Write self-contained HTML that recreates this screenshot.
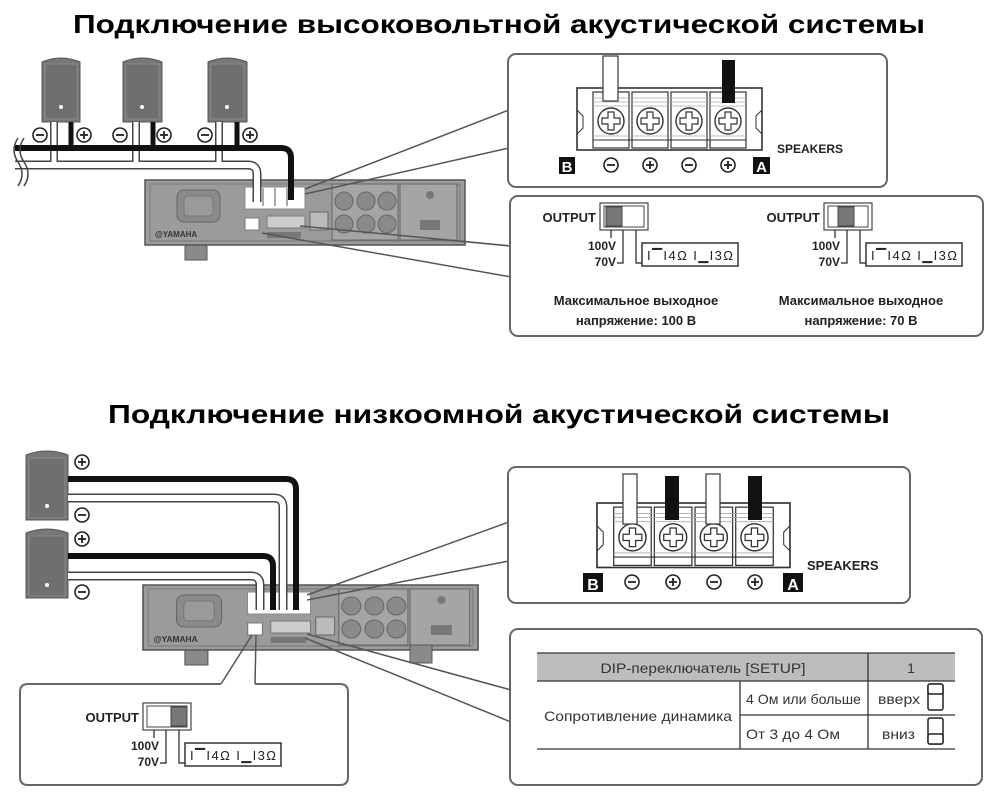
<!DOCTYPE html>
<html><head><meta charset="utf-8"><style>html,body{margin:0;padding:0;background:#fff}svg{display:block}</style></head>
<body>
<svg width="1000" height="800" viewBox="0 0 1000 800" xmlns="http://www.w3.org/2000/svg" font-family="Liberation Sans, DejaVu Sans, sans-serif">
<defs>
  <g id="minus"><circle r="7" fill="#fff" stroke="#222" stroke-width="1.6"/><line x1="-4" y1="0" x2="4" y2="0" stroke="#222" stroke-width="1.8"/></g>
  <g id="plus"><circle r="7" fill="#fff" stroke="#222" stroke-width="1.6"/><line x1="-4" y1="0" x2="4" y2="0" stroke="#222" stroke-width="1.8"/><line x1="0" y1="-4" x2="0" y2="4" stroke="#222" stroke-width="1.8"/></g>
  <g id="amp">
    <rect x="40" y="60" width="22" height="20" fill="#8a8a8a" stroke="#555"/>
    <rect x="0" y="0" width="320" height="65" fill="#9b9b9b" stroke="#555" stroke-width="1.5"/>
    <rect x="5" y="4" width="310" height="57" fill="none" stroke="#7a7a7a"/>
    <rect x="32" y="10" width="43" height="32" rx="7" fill="#8a8a8a" stroke="#666"/>
    <rect x="39" y="16" width="29" height="20" rx="4" fill="#9a9a9a" stroke="#777"/>
    <text x="10" y="57" font-size="8" font-weight="bold" fill="#333">@YAMAHA</text>
    <rect x="100" y="7" width="60" height="22" fill="#fff" stroke="#888"/>
    <rect x="100" y="38" width="14" height="12" fill="#fff" stroke="#777"/>
    <rect x="122" y="36" width="38" height="12" fill="#ccc" stroke="#777"/>
    <rect x="122" y="52" width="34" height="6" fill="#777"/>
    <rect x="165" y="32" width="18" height="18" fill="#bbb" stroke="#666"/>
    <rect x="187" y="4" width="66" height="56" fill="#a5a5a5" stroke="#666"/>
    <circle cx="199" cy="21" r="9" fill="#8a8a8a" stroke="#666"/><circle cx="221" cy="21" r="9" fill="#8a8a8a" stroke="#666"/><circle cx="242" cy="21" r="9" fill="#8a8a8a" stroke="#666"/>
    <circle cx="199" cy="44" r="9" fill="#8a8a8a" stroke="#666"/><circle cx="221" cy="44" r="9" fill="#8a8a8a" stroke="#666"/><circle cx="242" cy="44" r="9" fill="#8a8a8a" stroke="#666"/>
    <rect x="255" y="4" width="57" height="56" fill="#a5a5a5" stroke="#666"/>
    <circle cx="285" cy="15" r="4" fill="#777"/>
    <rect x="275" y="40" width="20" height="10" fill="#777"/>
  </g>
  <g id="tb">
    <rect x="0" y="0" width="185" height="62" fill="#fff" stroke="#333" stroke-width="1.6"/>
    <path d="M0 22 L6 28 L6 40 L0 46 M185 22 L179 28 L179 40 L185 46" fill="none" stroke="#333"/>
    <g fill="none" stroke="#333" stroke-width="1.2">
      <rect x="16" y="4" width="36" height="56"/><rect x="55" y="4" width="36" height="56"/><rect x="94" y="4" width="36" height="56"/><rect x="133" y="4" width="36" height="56"/>
    </g>
    <g stroke="#aaa" stroke-width="0.8">
      <line x1="16" y1="10" x2="169" y2="10"/><line x1="16" y1="14" x2="169" y2="14"/><line x1="16" y1="18" x2="169" y2="18"/><line x1="16" y1="48" x2="169" y2="48"/>
    </g>
    <line x1="16" y1="52" x2="169" y2="52" stroke="#333"/>
    <g fill="#fff" stroke="#333" stroke-width="1.4">
      <circle cx="34" cy="33" r="13"/><circle cx="73" cy="33" r="13"/><circle cx="112" cy="33" r="13"/><circle cx="151" cy="33" r="13"/>
    </g>
    <g fill="none" stroke="#333" stroke-width="1.2">
      <path d="M31 24h6v6h6v6h-6v6h-6v-6h-6v-6h6z"/>
      <path d="M70 24h6v6h6v6h-6v6h-6v-6h-6v-6h6z"/>
      <path d="M109 24h6v6h6v6h-6v6h-6v-6h-6v-6h6z"/>
      <path d="M148 24h6v6h6v6h-6v6h-6v-6h-6v-6h6z"/>
    </g>
  </g>
  <g id="outcommon">
    <text x="-4" y="19" font-size="13" font-weight="bold" text-anchor="end" fill="#222">OUTPUT</text>
    <rect x="0" y="0" width="48" height="27" fill="#fff" stroke="#444" stroke-width="1.2"/>
    <rect x="4" y="3" width="40" height="21" fill="#fff" stroke="#444"/>
    <g fill="none" stroke="#222" stroke-width="1.2">
      <path d="M11 27v8"/><path d="M23 27v33h-6"/><path d="M36 27v33h6"/>
    </g>
    <text x="16" y="47" font-size="12" font-weight="bold" text-anchor="end" fill="#222">100V</text>
    <text x="16" y="63" font-size="12" font-weight="bold" text-anchor="end" fill="#222">70V</text>
    <rect x="42" y="40" width="96" height="23" fill="#fff" stroke="#333" stroke-width="1.5"/>
    <text x="47" y="57" font-size="13" fill="#222" textLength="86">I&#9620;I4Ω  I&#9601;I3Ω</text>
  </g>
</defs>

<!-- Titles -->
<text x="499" y="33" font-size="26" font-weight="bold" text-anchor="middle" textLength="852" lengthAdjust="spacingAndGlyphs" fill="#000">Подключение высоковольтной акустической системы</text>
<text x="499" y="423" font-size="26" font-weight="bold" text-anchor="middle" textLength="782" lengthAdjust="spacingAndGlyphs" fill="#000">Подключение низкоомной акустической системы</text>

<!-- ===== TOP SECTION ===== -->
<use href="#amp" x="145" y="180"/>
<rect x="252" y="188" width="50" height="18" fill="#fff"/>
<g stroke="#555" fill="none"><line x1="263" y1="188" x2="263" y2="206"/><line x1="275" y1="188" x2="275" y2="206"/><line x1="287" y1="188" x2="287" y2="206"/></g>
<g stroke="#555" stroke-width="1.5" fill="none">
  <line x1="305" y1="189" x2="509" y2="110"/>
  <line x1="305" y1="194" x2="509" y2="148"/>
  <line x1="300" y1="226" x2="511" y2="246"/>
  <line x1="262" y1="233" x2="511" y2="277"/>
</g>

<!-- speakers top -->
<g>
  <path d="M42 62 q19 -8 38 0 v60 h-38z" fill="#777" stroke="#555"/>
  <rect x="45" y="64" width="32" height="55" fill="#6f6f6f" stroke="#888"/>
  <circle cx="61" cy="107" r="2" fill="#fff"/>
  <path d="M123 62 q19 -8 39 0 v60 h-39z" fill="#777" stroke="#555"/>
  <rect x="126" y="64" width="33" height="55" fill="#6f6f6f" stroke="#888"/>
  <circle cx="142" cy="107" r="2" fill="#fff"/>
  <path d="M208 62 q19 -8 39 0 v60 h-39z" fill="#777" stroke="#555"/>
  <rect x="211" y="64" width="33" height="55" fill="#6f6f6f" stroke="#888"/>
  <circle cx="227" cy="107" r="2" fill="#fff"/>
</g>
<g fill="none" stroke-linejoin="round">
  <path d="M15 165 H248 q9 0 9 9 V202" stroke="#444" stroke-width="9"/>
  <path d="M54 122 V165 M136 122 V165 M219 122 V165" stroke="#444" stroke-width="8"/>
  <path d="M15 165 H248 q9 0 9 9 V202" stroke="#fff" stroke-width="6"/>
  <path d="M54 122 V163 M136 122 V163 M219 122 V163" stroke="#fff" stroke-width="5"/>
  <path d="M15 148 H281 q10 0 10 10 V200" stroke="#111" stroke-width="6"/>
  <path d="M71 122 V148 M153 122 V148 M237 122 V148" stroke="#111" stroke-width="5"/>
</g>
<path d="M18 138 q-8 12 0 24 q8 12 0 24" fill="none" stroke="#444" stroke-width="1.5"/>
<path d="M24 138 q-8 12 0 24 q8 12 0 24" fill="none" stroke="#444" stroke-width="1.5"/>
<use href="#minus" x="40" y="135"/><use href="#plus" x="84" y="135"/>
<use href="#minus" x="120" y="135"/><use href="#plus" x="164" y="135"/>
<use href="#minus" x="205" y="135"/><use href="#plus" x="250" y="135"/>

<!-- top callout box 1 -->
<rect x="508" y="54" width="379" height="133" rx="8" fill="#fff" stroke="#666" stroke-width="2"/>
<use href="#tb" x="577" y="88"/>
<rect x="603" y="56" width="15" height="45" fill="#fff" stroke="#444" stroke-width="1.3"/>
<rect x="722" y="60" width="13" height="43" fill="#111"/>
<rect x="559" y="157" width="16" height="17" fill="#111"/><text x="567" y="172" font-size="15" font-weight="bold" fill="#fff" text-anchor="middle">B</text>
<use href="#minus" x="611" y="165"/><use href="#plus" x="650" y="165"/><use href="#minus" x="689" y="165"/><use href="#plus" x="728" y="165"/>
<rect x="753" y="157" width="17" height="17" fill="#111"/><text x="761.5" y="172" font-size="15" font-weight="bold" fill="#fff" text-anchor="middle">A</text>
<text x="777" y="153" font-size="12" font-weight="bold" fill="#222">SPEAKERS</text>

<!-- top callout box 2 -->
<rect x="510" y="196" width="473" height="140" rx="8" fill="#fff" stroke="#666" stroke-width="2"/>
<use href="#outcommon" x="600" y="203"/>
<rect x="606" y="207" width="16" height="19" fill="#777" stroke="#444"/>
<use href="#outcommon" x="824" y="203"/>
<rect x="838" y="207" width="16" height="19" fill="#777" stroke="#444"/>
<g font-size="13" font-weight="bold" fill="#222" text-anchor="middle">
  <text x="636" y="305">Максимальное выходное</text>
  <text x="636" y="325">напряжение: 100 В</text>
  <text x="861" y="305">Максимальное выходное</text>
  <text x="861" y="325">напряжение: 70 В</text>
</g>

<!-- ===== BOTTOM SECTION ===== -->
<use href="#amp" transform="translate(143,585) scale(1.047,1)"/>
<rect x="410" y="645" width="22" height="18" fill="#8a8a8a" stroke="#555"/>
<rect x="248" y="593" width="56" height="18" fill="#fff"/>
<g stroke="#555" stroke-width="1.5" fill="none">
  <line x1="307" y1="595" x2="509" y2="522"/>
  <line x1="307" y1="600" x2="509" y2="561"/>
  <line x1="307" y1="634" x2="511" y2="690"/>
  <line x1="305" y1="638" x2="511" y2="722"/>
  <line x1="252" y1="635" x2="221" y2="684"/>
  <line x1="256" y1="635" x2="255" y2="684"/>
</g>

<!-- speakers bottom -->
<path d="M26 455 q21 -8 42 0 v65 h-42z" fill="#777" stroke="#555"/>
<rect x="29" y="458" width="36" height="60" fill="#6f6f6f" stroke="#888"/>
<circle cx="47" cy="506" r="2" fill="#fff"/>
<path d="M26 533 q21 -8 42 0 v65 h-42z" fill="#777" stroke="#555"/>
<rect x="29" y="536" width="36" height="60" fill="#6f6f6f" stroke="#888"/>
<circle cx="47" cy="585" r="2" fill="#fff"/>
<g fill="none" stroke-linejoin="round">
  <path d="M68 498 H274 q9 0 9 9 V610" stroke="#444" stroke-width="9"/>
  <path d="M68 498 H274 q9 0 9 9 V610" stroke="#fff" stroke-width="6"/>
  <path d="M68 576 H251 q9 0 9 9 V610" stroke="#444" stroke-width="9"/>
  <path d="M68 576 H251 q9 0 9 9 V610" stroke="#fff" stroke-width="6"/>
  <path d="M68 479 H286 q10 0 10 10 V610" stroke="#111" stroke-width="6"/>
  <path d="M68 556 H263 q10 0 10 10 V610" stroke="#111" stroke-width="6"/>
</g>
<use href="#plus" x="82" y="462"/><use href="#minus" x="82" y="515"/>
<use href="#plus" x="82" y="539"/><use href="#minus" x="82" y="592"/>

<!-- bottom left box -->
<path d="M221 684 H28 q-8 0 -8 8 V777 q0 8 8 8 H340 q8 0 8 -8 V692 q0 -8 -8 -8 H255" fill="#fff" stroke="#666" stroke-width="2"/>
<use href="#outcommon" x="143" y="703"/>
<rect x="171" y="707" width="16" height="19" fill="#777" stroke="#444"/>

<!-- bottom right box 1 -->
<rect x="508" y="467" width="402" height="136" rx="8" fill="#fff" stroke="#666" stroke-width="2"/>
<use href="#tb" transform="translate(597,503) scale(1.043,1.04)"/>
<rect x="623" y="474" width="14" height="50" fill="#fff" stroke="#444" stroke-width="1.3"/>
<rect x="706" y="474" width="14" height="50" fill="#fff" stroke="#444" stroke-width="1.3"/>
<rect x="665" y="476" width="14" height="44" fill="#111"/>
<rect x="748" y="476" width="14" height="44" fill="#111"/>
<rect x="583" y="573" width="20" height="19" fill="#111"/><text x="593" y="590" font-size="16" font-weight="bold" fill="#fff" text-anchor="middle">B</text>
<use href="#minus" x="632" y="582"/><use href="#plus" x="673" y="582"/><use href="#minus" x="714" y="582"/><use href="#plus" x="755" y="582"/>
<rect x="783" y="573" width="20" height="19" fill="#111"/><text x="793" y="590" font-size="16" font-weight="bold" fill="#fff" text-anchor="middle">A</text>
<text x="807" y="570" font-size="13" font-weight="bold" fill="#222">SPEAKERS</text>

<!-- bottom right box 2 (table) -->
<rect x="510" y="629" width="472" height="156" rx="8" fill="#fff" stroke="#666" stroke-width="2"/>
<rect x="537" y="653" width="418" height="28" fill="#bdbdbd"/>
<g stroke="#333" stroke-width="1.3">
  <line x1="537" y1="653" x2="955" y2="653"/>
  <line x1="537" y1="681" x2="955" y2="681"/>
  <line x1="740" y1="715" x2="955" y2="715"/>
  <line x1="537" y1="749" x2="955" y2="749"/>
  <line x1="868" y1="653" x2="868" y2="749"/>
  <line x1="740" y1="681" x2="740" y2="749"/>
</g>
<g font-size="14" fill="#333">
  <text x="703" y="673" text-anchor="middle" textLength="205" lengthAdjust="spacingAndGlyphs">DIP-переключатель [SETUP]</text>
  <text x="911" y="673" text-anchor="middle">1</text>
  <text x="638" y="721" text-anchor="middle" textLength="188" lengthAdjust="spacingAndGlyphs">Сопротивление динамика</text>
  <text x="746" y="704" textLength="115" lengthAdjust="spacingAndGlyphs">4 Ом или больше</text>
  <text x="746" y="739" textLength="94" lengthAdjust="spacingAndGlyphs">От 3 до 4 Ом</text>
  <text x="878" y="704" textLength="42" lengthAdjust="spacingAndGlyphs">вверх</text>
  <text x="882" y="739" textLength="33" lengthAdjust="spacingAndGlyphs">вниз</text>
</g>
<rect x="928" y="684" width="15" height="26" rx="2" fill="#fff" stroke="#222" stroke-width="1.5"/>
<rect x="928" y="684" width="15" height="10" rx="2" fill="#fff" stroke="#222" stroke-width="1.5"/>
<rect x="928" y="718" width="15" height="26" rx="2" fill="#fff" stroke="#222" stroke-width="1.5"/>
<rect x="928" y="734" width="15" height="10" rx="2" fill="#fff" stroke="#222" stroke-width="1.5"/>
</svg>
</body></html>
